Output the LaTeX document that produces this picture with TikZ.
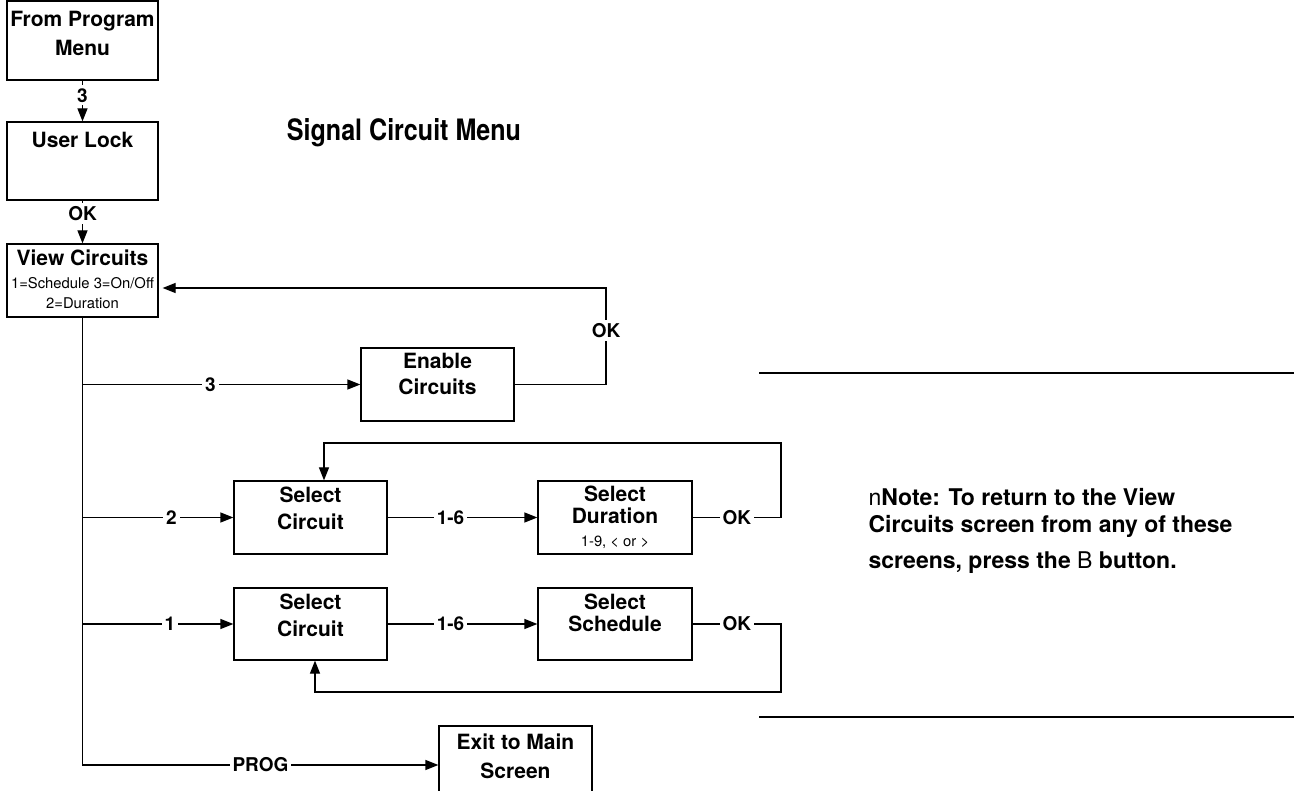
\documentclass[tikz,border=0pt]{standalone}
\usepackage{fontspec}
\setmainfont{TeX Gyre Heros}
\newfontfamily\titlefont[FakeStretch=0.85]{TeX Gyre Heros}
\usetikzlibrary{arrows.meta}

\newcommand{\boxfont}{\bfseries\fontsize{21}{27}\selectfont}
\newcommand{\smallfont}{\mdseries\fontsize{14.8}{18}\selectfont}

\begin{document}
\begin{tikzpicture}[x=1pt, y=-1pt, line width=1.2pt,
  arr/.style={-{Triangle[length=13pt,width=10pt]}},
  screen/.style={draw, inner sep=0pt, minimum width=153pt, minimum height=73pt},
  boxtxt/.style={anchor=north, align=center, inner sep=0pt, font=\boxfont},
  lbl/.style={fill=white, inner sep=3pt, font=\bfseries\fontsize{19}{22}\selectfont}]
\useasboundingbox (0,0) rectangle (1294,791);
\clip (0,0) rectangle (1294,791);
% left column: entry into the menu
\node[screen, minimum width=151pt, minimum height=79pt,
  label={[boxtxt, yshift=-10.5pt]north:From Program\\[2pt]Menu}] (from) at (82.5,40.5) {};
\node[screen, minimum width=151pt, minimum height=78pt,
  label={[boxtxt, yshift=-10.5pt]north:User Lock}] (lock) at (82.5,161) {};
\node[screen, minimum width=151pt,
  label={[boxtxt, yshift=-5.5pt]north:View Circuits\\[-4pt]{\smallfont 1=Schedule 3=On/Off}\\[-7pt]{\smallfont 2=Duration}}] (view) at (82.5,280.5) {};
\node[font=\titlefont\bfseries\fontsize{29.5}{32}\selectfont] (title) at (404,133) {Signal Circuit Menu};
% branches
\node[screen, label={[boxtxt, yshift=-5.5pt]north:Enable\\[-1pt]Circuits}] (enable) at (437.5,384.5) {};
\node[screen, label={[boxtxt, yshift=-5.5pt]north:Select\\Circuit}] (selc1) at (310.5,517.5) {};
\node[screen, minimum width=154pt,
  label={[boxtxt, yshift=-4.5pt]north:Select\\[-5pt]Duration\\[-4pt]{\smallfont 1-9, < or >}}] (dur) at (615,517.5) {};
\node[screen, minimum height=72pt, label={[boxtxt, yshift=-5.5pt]north:Select\\Circuit}] (selc2) at (310.5,624) {};
\node[screen, minimum width=154pt, minimum height=72pt,
  label={[boxtxt, yshift=-5.5pt]north:Select\\[-5pt]Schedule}] (sched) at (615,624) {};
\node[screen, minimum height=78pt,
  label={[boxtxt, yshift=-7.5pt]north:Exit to Main\\[2pt]Screen}] (exit) at (515.5,765) {};
% corners of the return loops
\coordinate (enR) at (606,288);
\coordinate (upR) at (781,443);
\coordinate (upL) at (324,443);
\coordinate (loR) at (781,692);
\coordinate (loL) at (315,692);
% connectors
\draw[arr] (from) -- node[lbl, pos=0.36]{3} (lock);
\draw[arr] (lock) -- node[lbl, pos=0.3]{OK} (view);
\draw[arr] (view.south) |- node[lbl, pos=0.73]{3} (enable.west);
\draw[arr] (view.south) |- node[lbl, pos=0.795]{2} (selc1.west);
\draw[arr] (view.south) |- node[lbl, pos=0.79]{1} (selc2.west);
\draw[arr] (view.south) |- node[lbl, pos=0.75]{PROG} (exit.west);
\draw[arr, shorten >=4pt] (enable.east) -- (enable.east -| enR) -- node[lbl, pos=0.56]{OK} (enR) -- (enR -| view.east);
\draw[arr] (selc1) -- node[lbl, pos=0.42]{1-6} (dur);
\draw[arr] (selc2) -- node[lbl, pos=0.42]{1-6} (sched);
\draw[arr] (dur.east) -- node[lbl]{OK} (dur.east -| upR) -- (upR) -- (upL) -- (upL |- selc1.north);
\draw[arr] (sched.east) -- node[lbl]{OK} (sched.east -| loR) -- (loR) -- (loL) -- (loL |- selc2.south);
% note between the two rules
\draw (759,373) -- (1294,373);
\draw (759,717) -- (1294,717);
\node[anchor=north west, align=left, inner sep=0pt,
  font=\bfseries\fontsize{23}{36}\selectfont] (note) at (868,488)
  {{\mdseries n}Note: To return to the View\\[-9pt]Circuits screen from any of these\\screens, press the {\mdseries B} button.};
\end{tikzpicture}
\end{document}
